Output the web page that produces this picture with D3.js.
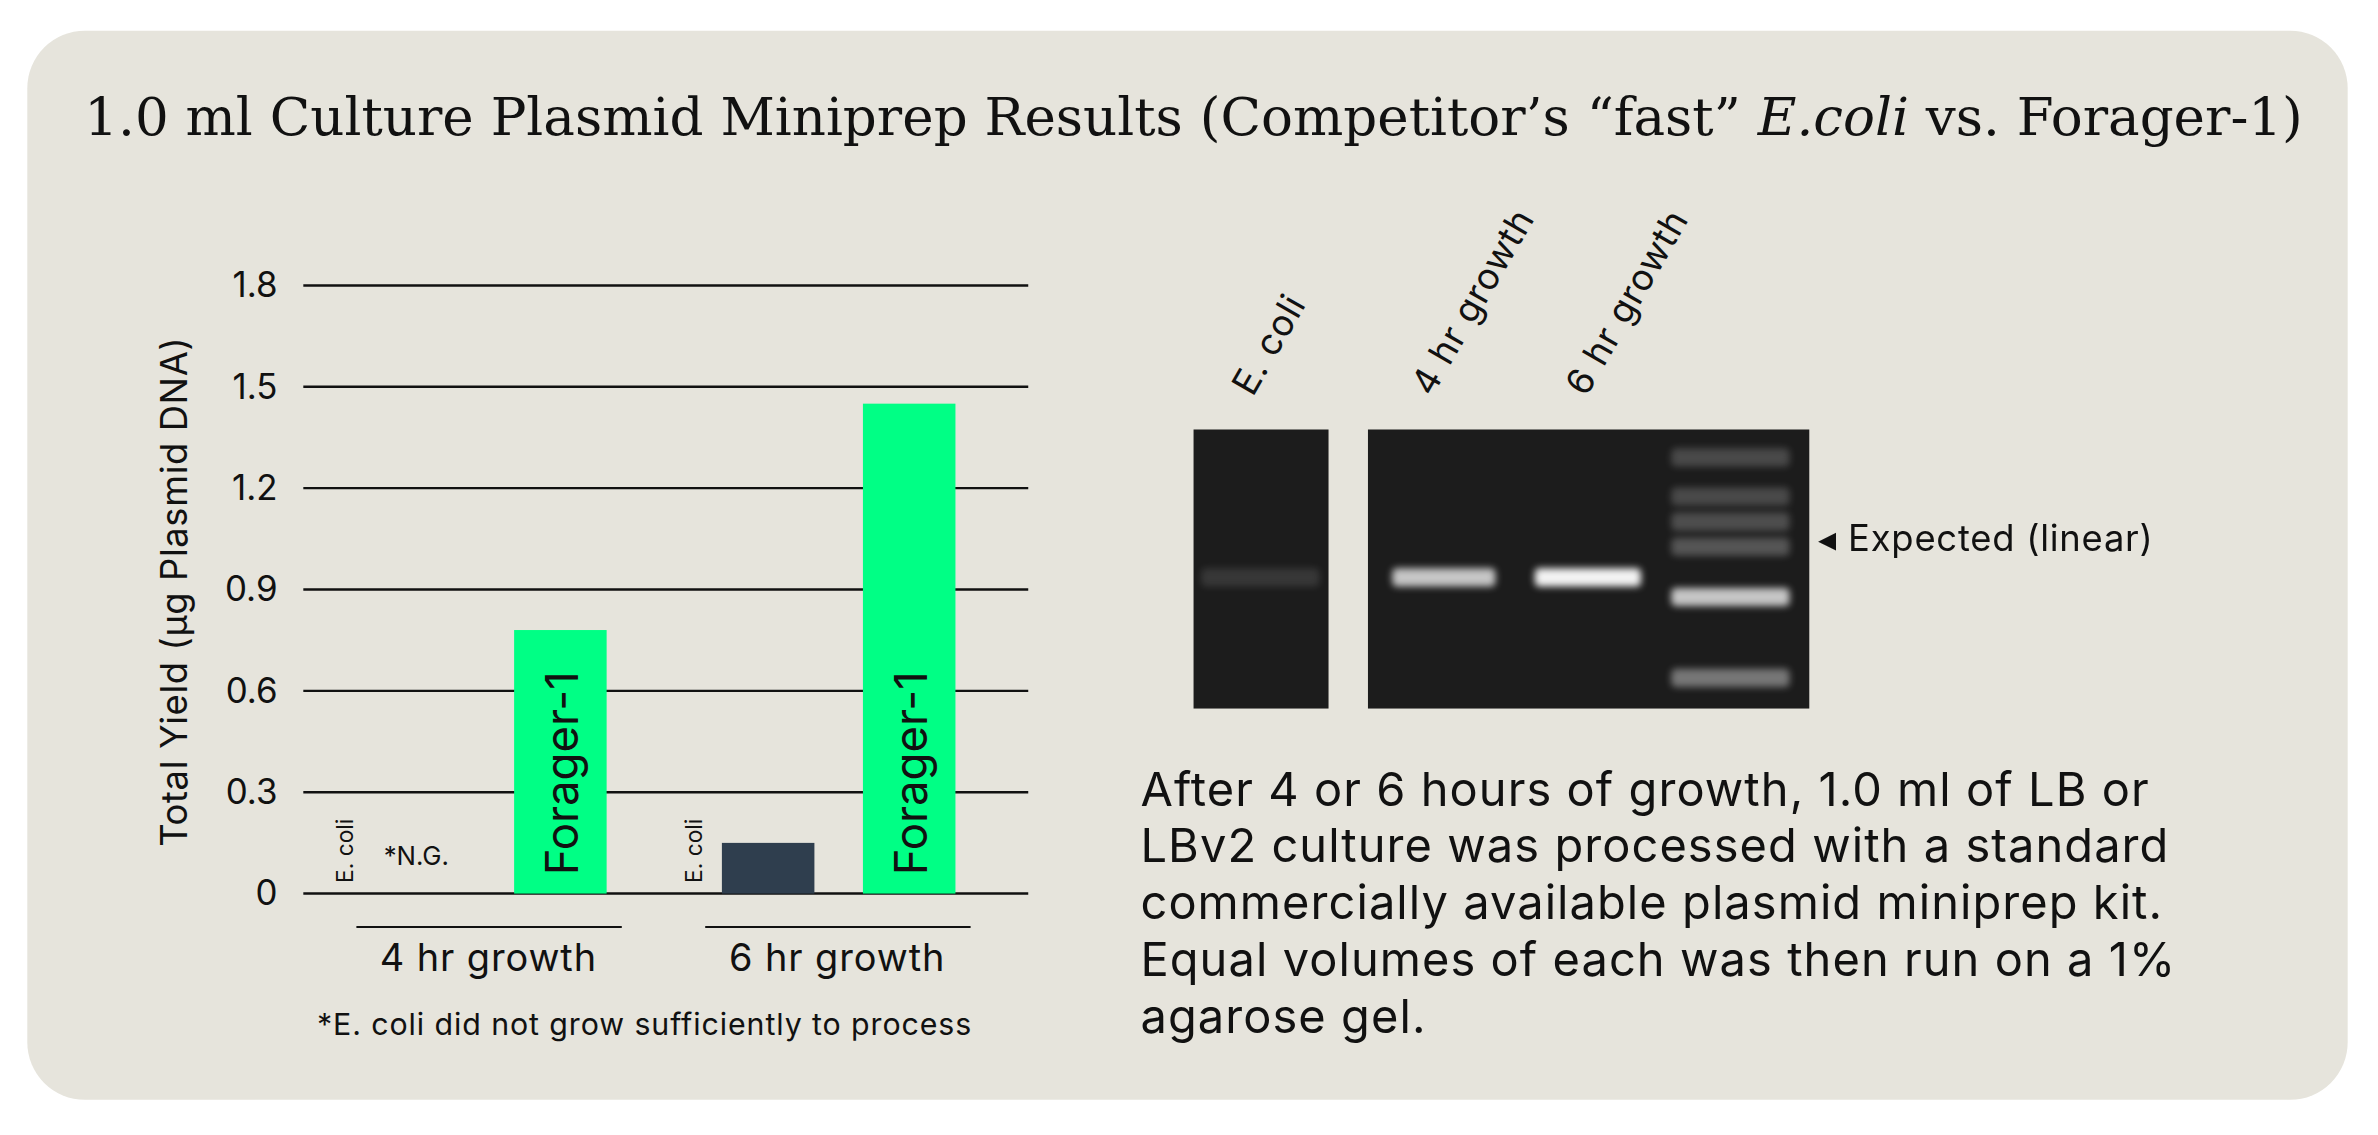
<!DOCTYPE html>
<html><head><meta charset="utf-8">
<script src="https://cdn.jsdelivr.net/npm/d3@7"></script>
<style>html,body{margin:0;padding:0;background:#fff;overflow:hidden}</style>
</head><body><svg id="c"></svg>
<script>
const groups = ["4 hr growth", "6 hr growth"];
const ecoliValues = [null, 0.15];
const foragerValues = [0.78, 1.45];
const yTicks = [0, 0.3, 0.6, 0.9, 1.2, 1.5, 1.8];
const laneLabels = ["E. coli", "4 hr growth", "6 hr growth"];
// gel bands: lane index, relative position (0 top..1 bottom), intensity
const gelBands = [
  {lane:0, y:0.53, a:0.12},
  {lane:1, y:0.53, a:0.75}, {lane:2, y:0.53, a:0.95},
  {lane:3, y:0.10, a:0.2}, {lane:3, y:0.24, a:0.2}, {lane:3, y:0.33, a:0.22},
  {lane:3, y:0.42, a:0.25}, {lane:3, y:0.60, a:0.75}, {lane:3, y:0.89, a:0.4}
];
const paragraph = ["After 4 or 6 hours of growth, 1.0 ml of LB or","LBv2 culture was processed with a standard","commercially available plasmid miniprep kit.","Equal volumes of each was then run on a 1%","agarose gel."];

const W=1568,H=748;
const svg=d3.select("#c").attr("width",2378).attr("height",1135).attr("viewBox",`0 0 ${W} ${H}`);
const sans="Inter, 'Open Sans', sans-serif";
svg.append("rect").attr("width",W).attr("height",H).attr("fill","#fff");
svg.append("rect").attr("x",18).attr("y",20).attr("width",1530).attr("height",705).attr("rx",38).attr("fill","#e6e4dc");
const t=svg.append("text").attr("x",787).attr("y",89).attr("text-anchor","middle").attr("font-family","'DejaVu Serif', serif").attr("font-size",35).attr("fill","#111");
t.append("tspan").text("1.0 ml Culture Plasmid Miniprep Results (Competitor\u2019s \u201cfast\u201d ");
t.append("tspan").attr("font-style","italic").text("E.coli");
t.append("tspan").text(" vs. Forager-1)");

const y=d3.scaleLinear().domain([0,1.8]).range([589,188]);
const g=svg.append("g");
const ax=d3.axisLeft(y).tickValues(yTicks).tickSize(0).tickFormat(d=>d===0?"0":d3.format(".1f")(d));
const axg=g.append("g").attr("transform","translate(186,0)").call(ax);
axg.select(".domain").remove();
axg.selectAll("text").attr("font-family",sans).attr("font-size",23).attr("fill","#111").attr("dx",0);
g.selectAll("line.grid").data(yTicks).join("line").attr("x1",200).attr("x2",678).attr("y1",y).attr("y2",y).attr("stroke","#111").attr("stroke-width",1.6);

const gx=d3.scaleBand().domain(groups).range([205,665]).padding(0);
groups.forEach((gr,i)=>{
  const x0=gx(gr);
  g.append("rect").attr("x",x0+134).attr("width",61).attr("y",y(foragerValues[i])).attr("height",y(0)-y(foragerValues[i])).attr("fill","#00ff85");
  g.append("text").attr("transform",`translate(${x0+134+42},${y(0)-12}) rotate(-90)`).attr("font-family",sans).attr("font-size",30).attr("fill","#111").text("Forager-1");
  if(ecoliValues[i]!=null){
    g.append("rect").attr("x",x0+41).attr("width",61).attr("y",y(ecoliValues[i])).attr("height",y(0)-y(ecoliValues[i])).attr("fill","#2f3e4e");
  } else {
    g.append("text").attr("x",x0+48).attr("y",570).attr("font-family",sans).attr("font-size",17).attr("fill","#111").text("*N.G.");
  }
  g.append("text").attr("transform",`translate(${x0+28},${y(0)-7}) rotate(-90)`).attr("font-family",sans).attr("font-size",15).attr("fill","#111").text("E. coli");
  g.append("line").attr("x1",x0+30).attr("x2",x0+205).attr("y1",611).attr("y2",611).attr("stroke","#111").attr("stroke-width",1.3);
  g.append("text").attr("x",x0+117).attr("y",640).attr("text-anchor","middle").attr("font-family",sans).attr("font-size",25).attr("letter-spacing",0.6).attr("fill","#111").text(gr);
});
g.append("text").attr("transform","translate(123,390) rotate(-90)").attr("text-anchor","middle").attr("font-family",sans).attr("font-size",24).attr("letter-spacing",0.4).attr("fill","#111").text("Total Yield (\u00b5g Plasmid DNA)");
g.append("text").attr("x",425).attr("y",682).attr("text-anchor","middle").attr("font-family",sans).attr("font-size",20).attr("letter-spacing",0.6).attr("fill","#111").text("*E. coli did not grow sufficiently to process");

// gel
const defs=svg.append("defs");
defs.append("filter").attr("id","blur").append("feGaussianBlur").attr("stdDeviation",2.5);
const gelTop=283,gelBot=467;
const gy=d3.scaleLinear().domain([0,1]).range([gelTop,gelBot]);
const laneX=[[792,870],[918,986],[1012,1082],[1102,1180]];
svg.append("rect").attr("x",787).attr("y",gelTop).attr("width",89).attr("height",gelBot-gelTop).attr("fill","#1c1c1c");
svg.append("rect").attr("x",902).attr("y",gelTop).attr("width",291).attr("height",gelBot-gelTop).attr("fill","#1c1c1c");
svg.append("g").attr("filter","url(#blur)").selectAll("rect").data(gelBands).join("rect")
  .attr("x",d=>laneX[d.lane][0]).attr("width",d=>laneX[d.lane][1]-laneX[d.lane][0])
  .attr("y",d=>gy(d.y)-6).attr("height",12).attr("rx",3).attr("fill","#fff").attr("opacity",d=>d.a);
const lx=[826,944,1046];
svg.selectAll("text.lane").data(laneLabels).join("text").attr("class","lane")
  .attr("transform",(d,i)=>`translate(${lx[i]},${262}) rotate(-60)`).attr("font-family",sans).attr("font-size",24).attr("letter-spacing",0.5).attr("fill","#111").text(d=>d);
svg.append("text").attr("x",1199).attr("y",363).attr("font-family",sans).attr("font-size",24).attr("letter-spacing",0.5).attr("fill","#111").text("\u25c2 Expected (linear)");
svg.append("text").attr("font-family",sans).attr("font-size",31).attr("letter-spacing",0.7).attr("fill","#111")
  .selectAll("tspan").data(paragraph).join("tspan").attr("x",752).attr("y",(d,i)=>531+i*37.5).text(d=>d);
</script></body></html>
